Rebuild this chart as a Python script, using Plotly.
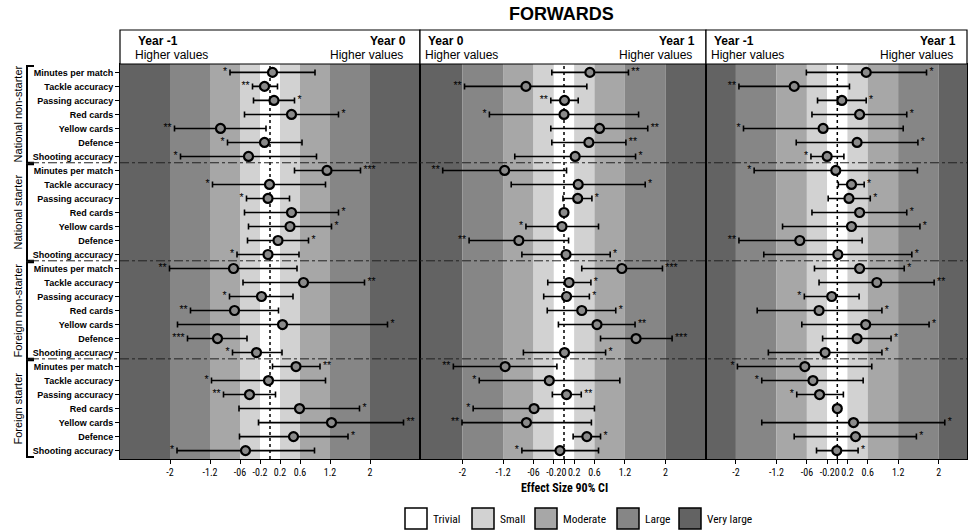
import plotly.graph_objects as go

W, H = 970, 531

metrics = ["Minutes per match", "Tackle accuracy", "Passing accuracy", "Red cards",
           "Yellow cards", "Defence", "Shooting accuracy"]
groups = ["National non-starter", "National starter", "Foreign non-starter", "Foreign starter"]
row_labels = metrics * 4

# Panel 1: Year -1 vs Year 0
es1 = [0.05, -0.11, 0.08, 0.43, -0.99, -0.11, -0.43,
       1.14, -0.01, -0.04, 0.43, 0.40, 0.16, -0.04,
       -0.73, 0.67, -0.17, -0.71, 0.25, -1.05, -0.27,
       0.52, -0.03, -0.41, 0.59, 1.23, 0.47, -0.49]
lo1 = [-0.80, -0.35, -0.33, -0.51, -1.91, -0.85, -1.79,
       0.49, -1.15, -0.47, -0.51, -0.43, -0.45, -0.66,
       -2.01, -0.54, -0.81, -1.59, -1.85, -1.65, -0.75,
       0.05, -1.17, -0.93, -0.62, -0.23, -0.61, -1.86]
hi1 = [0.90, 0.15, 0.49, 1.37, -0.08, 0.64, 0.93,
       1.81, 1.11, 0.39, 1.37, 1.23, 0.77, 0.58,
       0.54, 1.89, 0.46, 0.17, 2.35, -0.46, 0.24,
       1.00, 1.11, 0.11, 1.79, 2.67, 1.56, 0.89]
sig1 = ["*", "**", "*", "*", "**", "*", "*",
        "***", "*", "*", "*", "*", "*", "*",
        "**", "**", "*", "**", "*", "***", "*",
        "**", "*", "**", "*", "**", "*", "*"]
side1 = ["L", "L", "R", "R", "L", "L", "L",
         "R", "L", "L", "R", "R", "R", "L",
         "L", "R", "L", "L", "R", "L", "L",
         "R", "L", "L", "R", "R", "R", "L"]

# Panel 2: Year 0 vs Year 1
es2 = [0.51, -0.75, 0.01, 0.00, 0.70, 0.49, 0.22,
       -1.17, 0.28, 0.27, 0.00, -0.04, -0.89, 0.04,
       1.14, 0.10, 0.05, 0.35, 0.65, 1.42, 0.01,
       -1.16, -0.29, 0.05, -0.59, -0.74, 0.45, -0.08]
lo2 = [-0.24, -1.96, -0.26, -1.47, -0.26, -0.24, -0.97,
       -2.39, -1.04, -0.02, 0.00, -0.75, -1.87, -0.83,
       0.35, -0.32, -0.40, -0.33, -0.11, 0.72, -0.80,
       -2.18, -1.67, -0.23, -1.79, -2.01, 0.18, -0.83]
hi2 = [1.27, 0.45, 0.28, 1.47, 1.65, 1.22, 1.41,
       0.05, 1.60, 0.55, 0.00, 0.68, 0.09, 0.91,
       1.94, 0.53, 0.50, 1.02, 1.40, 2.13, 0.82,
       -0.14, 1.10, 0.34, 0.60, 0.54, 0.72, 0.68]
sig2 = ["**", "**", "**", "*", "**", "**", "*",
        "**", "*", "*", "", "*", "**", "*",
        "***", "*", "*", "*", "**", "***", "*",
        "**", "*", "**", "*", "**", "*", "*"]
side2 = ["R", "L", "L", "L", "R", "R", "R",
         "L", "R", "R", "R", "L", "L", "R",
         "R", "R", "R", "R", "R", "R", "R",
         "L", "L", "R", "L", "L", "R", "L"]

# Panel 3: Year -1 vs Year 1
es3 = [0.57, -0.85, 0.09, 0.44, -0.28, 0.39, -0.20,
       -0.03, 0.28, 0.23, 0.44, 0.28, -0.74, 0.01,
       0.44, 0.78, -0.11, -0.36, 0.56, 0.39, -0.24,
       -0.64, -0.48, -0.35, 0.00, 0.32, 0.36, -0.01]
lo3 = [-0.61, -1.94, -0.39, -0.50, -1.85, -0.81, -0.52,
       -1.64, 0.02, -0.18, -0.50, -1.08, -1.94, -1.45,
       -0.45, -0.36, -0.65, -1.58, -0.70, -0.29, -1.36,
       -1.97, -1.49, -0.80, 0.00, -1.49, -0.85, -0.41]
hi3 = [1.76, 0.24, 0.57, 1.37, 1.30, 1.59, 0.13,
       1.58, 0.53, 0.65, 1.37, 1.63, 0.49, 1.47,
       1.32, 1.91, 0.43, 0.88, 1.81, 1.06, 0.88,
       0.68, 0.51, 0.12, 0.00, 2.12, 1.56, 0.41]
sig3 = ["*", "**", "*", "*", "*", "*", "*",
        "*", "*", "*", "*", "*", "**", "*",
        "*", "**", "*", "*", "*", "*", "*",
        "*", "*", "*", "", "*", "*", "*"]
side3 = ["R", "L", "R", "R", "L", "R", "L",
         "L", "R", "R", "R", "R", "L", "R",
         "R", "R", "L", "R", "R", "R", "R",
         "L", "L", "L", "R", "R", "R", "R"]

header_left = ["Year -1", "Year 0", "Year -1"]
header_right = ["Year 0", "Year 1", "Year 1"]

band_edges = [-2, -1.2, -0.6, -0.2, 0.2, 0.6, 1.2, 2]
band_names = ["Trivial", "Small", "Moderate", "Large", "Very large"]
band_colors = ["#ffffff", "#d2d2d2", "#a7a7a7", "#868686", "#636363"]

tick_vals_1 = [-2, -1.2, -0.6, -0.2, 0.2, 0.6, 1.2, 2]
tick_text_1 = ["-2", "-1.2", "-06", "-0.2", "0.2", "0.6", "1.2", "2"]
tick_vals_23 = [-2, -1.2, -0.6, -0.2, 0, 0.2, 0.6, 1.2, 2]
tick_text_23 = ["-2", "-1.2", "-06", "-0.2", "0", "0.2", "0.6", "1.2", "2"]

NARROW = "Liberation Sans Narrow, Arial Narrow, Roboto Condensed, Liberation Sans, sans-serif"
SANS = "Liberation Sans, Arial, sans-serif"


def px(x):
    return x / W


def py(y):
    return 1 - y / H


# layout geometry (pixels)
panel_px = [(120, 420), (420, 706), (706, 967)]
centers_px = [270, 564, 837.3]
scales_px = [50.0, 50.75, 50.7]
top_px, bot_px = 64, 459
yrange = [27.6, -0.6]

rows = list(range(len(row_labels)))
panels = [(es1, lo1, hi1, sig1, side1), (es2, lo2, hi2, sig2, side2),
          (es3, lo3, hi3, sig3, side3)]

fig = go.Figure()
shapes = []
annotations = []

for i, (es, lo, hi, sig, side) in enumerate(panels):
    ax = "" if i == 0 else str(i + 1)
    xref, yref = "x" + ax, "y" + ax
    l, r = panel_px[i]
    c, s = centers_px[i], scales_px[i]
    xr = [(l - c) / s, (r - c) / s]

    # background bands
    edges = [xr[0] - 1] + band_edges + [xr[1] + 1]
    col_seq = [band_colors[4], band_colors[3], band_colors[2], band_colors[1],
               band_colors[0], band_colors[1], band_colors[2], band_colors[3], band_colors[4]]
    for k in range(len(edges) - 1):
        shapes.append(dict(type="rect", xref=xref, yref=yref + " domain",
                           x0=edges[k], x1=edges[k + 1], y0=0, y1=1,
                           fillcolor=col_seq[k], line=dict(width=0), layer="below"))
    # centre dotted line
    shapes.append(dict(type="line", xref=xref, yref=yref + " domain", x0=0, x1=0,
                       y0=0, y1=1, line=dict(color="black", width=1.5, dash="dot"),
                       layer="below"))

    fig.add_trace(go.Scatter(
        x=es, y=rows, mode="markers", xaxis="x" + ax, yaxis="y" + ax,
        marker=dict(symbol="circle", size=9, color="#8a8a8a",
                    line=dict(color="black", width=2.2)),
        error_x=dict(type="data", symmetric=False,
                     array=[h - e for h, e in zip(hi, es)],
                     arrayminus=[e - lw for e, lw in zip(es, lo)],
                     color="black", thickness=1.6, width=3),
        showlegend=False, hoverinfo="skip"))

    lx = [lw for lw, sd, sg in zip(lo, side, sig) if sd == "L" and sg]
    ly = [rw for rw, sd, sg in zip(rows, side, sig) if sd == "L" and sg]
    lt = [sg + " " for sd, sg in zip(side, sig) if sd == "L" and sg]
    rx = [h for h, sd, sg in zip(hi, side, sig) if sd == "R" and sg]
    ry = [rw for rw, sd, sg in zip(rows, side, sig) if sd == "R" and sg]
    rt = [" " + sg for sd, sg in zip(side, sig) if sd == "R" and sg]
    fig.add_trace(go.Scatter(x=lx, y=ly, text=lt, mode="text", textposition="middle left",
                             textfont=dict(size=10.5, color="black", family=SANS),
                             xaxis="x" + ax, yaxis="y" + ax, showlegend=False,
                             hoverinfo="skip", cliponaxis=False))
    fig.add_trace(go.Scatter(x=rx, y=ry, text=rt, mode="text", textposition="middle right",
                             textfont=dict(size=10.5, color="black", family=SANS),
                             xaxis="x" + ax, yaxis="y" + ax, showlegend=False,
                             hoverinfo="skip", cliponaxis=False))

    tv = tick_vals_1 if i == 0 else tick_vals_23
    tt = tick_text_1 if i == 0 else tick_text_23
    fig.layout["xaxis" + ax] = dict(
        domain=[px(l), px(r)], range=xr, anchor="y" + ax,
        tickvals=tv, ticktext=tt, ticks="outside", ticklen=4, tickcolor="black",
        tickwidth=1, tickangle=0, showline=True, mirror=True, linecolor="black",
        linewidth=1, showgrid=False, zeroline=False,
        tickfont=dict(family=NARROW, size=10, color="black"))
    yax = dict(domain=[py(bot_px), py(top_px)], range=yrange, anchor="x" + ax,
               showline=True, mirror=True, linecolor="black", linewidth=1,
               showgrid=False, zeroline=False)
    if i == 0:
        yax.update(tickvals=rows, ticktext=["<b>" + t + "</b>" for t in row_labels],
                   ticks="outside", ticklen=4, tickcolor="black",
                   tickfont=dict(family=SANS, size=9, color="black"))
    else:
        yax.update(showticklabels=False, ticks="")
    fig.layout["yaxis" + ax] = yax

    # header box
    shapes.append(dict(type="rect", xref="paper", yref="paper", x0=px(l), x1=px(r),
                       y0=py(top_px), y1=py(30), line=dict(color="black", width=1.2),
                       fillcolor="white"))
    inset_l = 16 if i == 0 else 6
    inset_r = 12 if i == 0 else 9
    annotations += [
        dict(x=px(l + inset_l), y=py(41), xref="paper", yref="paper", xanchor="left",
             yanchor="middle", text="<b>" + header_left[i] + "</b>", showarrow=False,
             font=dict(family=SANS, size=12, color="black")),
        dict(x=px(r - inset_r), y=py(41), xref="paper", yref="paper", xanchor="right",
             yanchor="middle", text="<b>" + header_right[i] + "</b>", showarrow=False,
             font=dict(family=SANS, size=12, color="black")),
        dict(x=px(l + inset_l - 3), y=py(55), xref="paper", yref="paper", xanchor="left",
             yanchor="middle", text="Higher values", showarrow=False,
             font=dict(family=SANS, size=12, color="black")),
        dict(x=px(r - inset_r - 3), y=py(55), xref="paper", yref="paper", xanchor="right",
             yanchor="middle", text="Higher values", showarrow=False,
             font=dict(family=SANS, size=12, color="black")),
    ]

# group separators, brackets and group labels
for g in range(len(groups)):
    first, last = 7 * g, 7 * g + 6
    if g > 0:
        shapes.append(dict(type="line", xref="paper", yref="y", x0=px(30), x1=px(967),
                           y0=first - 0.55, y1=first - 0.55,
                           line=dict(color="#222222", width=1, dash="dashdot")))
    y_top, y_bot = first - 0.45, last + 0.45
    shapes.append(dict(type="path", xref="paper", yref="y",
                       path=f"M {px(34)} {y_top} L {px(27)} {y_top} L {px(27)} {y_bot} L {px(34)} {y_bot}",
                       line=dict(color="black", width=2)))
    annotations.append(dict(x=px(18), y=first + 3, xref="paper", yref="y", text=groups[g],
                            textangle=-90, showarrow=False, xanchor="center", yanchor="middle",
                            font=dict(family=SANS, size=11, color="black")))

# title and axis title
annotations.append(dict(x=px(561), y=py(14), xref="paper", yref="paper",
                        xanchor="center", yanchor="middle",
                        text="<b>FORWARDS</b>", showarrow=False,
                        font=dict(family=SANS, size=18, color="black")))
annotations.append(dict(x=px(564), y=py(488), xref="paper", yref="paper",
                        xanchor="center", yanchor="middle",
                        text="<b>Effect Size 90% CI</b>", showarrow=False,
                        font=dict(family=NARROW, size=12, color="black")))

# legend
leg_box_x = [405, 472, 535, 617, 679]
for name, colr, bx in zip(band_names, band_colors, leg_box_x):
    shapes.append(dict(type="rect", xref="paper", yref="paper", x0=px(bx), x1=px(bx + 22),
                       y0=py(529), y1=py(508), fillcolor=colr,
                       line=dict(color="black", width=1.5)))
    annotations.append(dict(x=px(bx + 26), y=py(518.5), xref="paper", yref="paper",
                            xanchor="left", yanchor="middle", text=name, showarrow=False,
                            font=dict(family=NARROW, size=11.5, color="black")))

fig.update_layout(width=W, height=H, autosize=False,
                  margin=dict(l=0, r=0, t=0, b=0),
                  paper_bgcolor="white", plot_bgcolor="white",
                  shapes=shapes, annotations=annotations, showlegend=False)

fig.write_html("out.html", config={"displayModeBar": False},
               post_script="document.body.style.margin='0';document.body.style.overflow='hidden';")
